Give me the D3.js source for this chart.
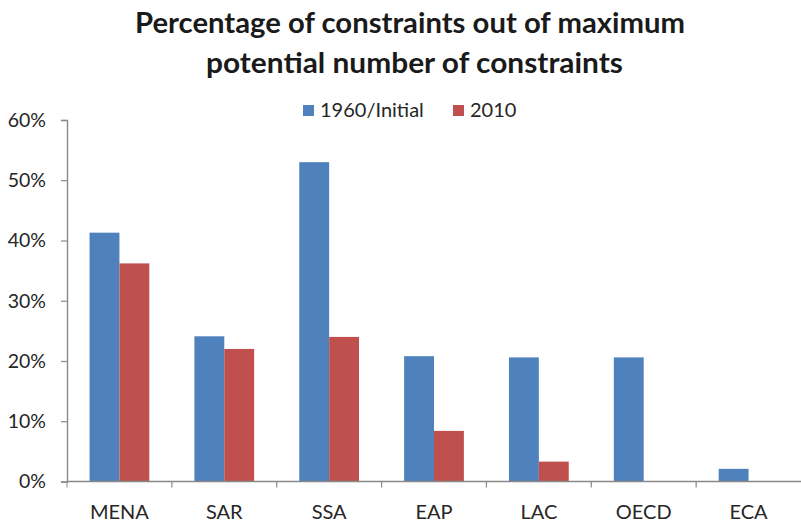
<!DOCTYPE html>
<html><head><meta charset="utf-8">
<script src="https://cdn.jsdelivr.net/npm/d3@7"></script>
<style>body{margin:0;background:#fff}svg{display:block}</style>
</head><body>
<svg id="c" width="801" height="525"></svg>
<script>
const categories = ["MENA","SAR","SSA","EAP","LAC","OECD","ECA"];
const seriesNames = ["1960/Initial","2010"];
const initialValues = [0.413,0.241,0.530,0.208,0.206,0.206,0.021];
const values2010 = [0.362,0.220,0.240,0.084,0.033,0,0];
const yTicks = [0,0.1,0.2,0.3,0.4,0.5,0.6];
const titleLines = ["Percentage of constraints out of maximum","potential number of constraints"];
const colors = ["#4F81BD","#C0504D"];

(function(){
const svg = d3.select("#c");
const font = "Lato, 'Open Sans', sans-serif";
const pLeft = 67, pRight = 801, pTop = 120, pBottom = 481.5;

const x = d3.scaleBand().domain(categories).range([pLeft, pRight]);
const gap = x.bandwidth()*0.43;
const xs = d3.scaleBand().domain(seriesNames).range([gap/2, x.bandwidth()-gap/2]);
const y = d3.scaleLinear().domain([0,0.6]).range([pBottom, pTop]);

// title
const tw = [550, 417];
const tx = [410, 414.5];
svg.selectAll("text.title").data(titleLines).join("text")
  .attr("class","title")
  .attr("x",(d,i)=>tx[i]).attr("y",(d,i)=>33+i*40)
  .attr("text-anchor","middle")
  .attr("font-family",font).attr("font-weight","bold").attr("font-size",28)
  .attr("fill","#1a1a1a")
  .attr("textLength",(d,i)=>tw[i]).attr("lengthAdjust","spacingAndGlyphs")
  .text(d=>d);

// bars
const data = categories.map((c,i)=>({cat:c, vals:[initialValues[i], values2010[i]]}));
const g = svg.append("g");
data.forEach(d=>{
  d.vals.forEach((v,j)=>{
    if(v<=0) return;
    g.append("rect")
      .attr("x", x(d.cat)+xs(seriesNames[j]))
      .attr("width", xs.bandwidth())
      .attr("y", y(v)).attr("height", y(0)-y(v))
      .attr("fill", colors[j]);
  });
});

// y axis
const ya = svg.append("g").attr("transform",`translate(${pLeft},0)`)
  .call(d3.axisLeft(y).tickValues(yTicks).tickFormat(d3.format(".0%")).tickSize(6).tickPadding(15));
ya.select(".domain").attr("stroke","#898989").attr("stroke-width",1.4);
ya.selectAll(".tick line").attr("stroke","#898989").attr("stroke-width",1.2);
ya.selectAll("text").attr("font-family",font).attr("font-size",19.5).attr("fill","#262626");

// x axis
const xa = svg.append("g").attr("transform",`translate(0,${pBottom})`);
xa.append("line").attr("x1",pLeft).attr("x2",pRight).attr("stroke","#898989").attr("stroke-width",1.4);
xa.selectAll("line.t").data(categories.slice(1)).join("line").attr("class","t")
  .attr("x1",d=>x(d)).attr("x2",d=>x(d)).attr("y1",0).attr("y2",6).attr("stroke","#898989").attr("stroke-width",1.2);
xa.append("line").attr("x1",pLeft).attr("x2",pLeft).attr("y1",0).attr("y2",6).attr("stroke","#898989");
xa.selectAll("text.lbl").data(categories).join("text").attr("class","lbl")
  .attr("x",d=>x(d)+x.bandwidth()/2).attr("y",37.5)
  .attr("text-anchor","middle").attr("font-family",font).attr("font-size",20).attr("fill","#262626")
  .text(d=>d);

// legend
const lg = svg.append("g");
const lx = [303, 453];
seriesNames.forEach((s,i)=>{
  lg.append("rect").attr("x",lx[i]).attr("y",105).attr("width",11).attr("height",11).attr("fill",colors[i]);
  lg.append("text").attr("x",lx[i]+17).attr("y",117).attr("font-family",font).attr("font-size",20).attr("fill","#262626").text(s);
});
})();
</script>
</body></html>
